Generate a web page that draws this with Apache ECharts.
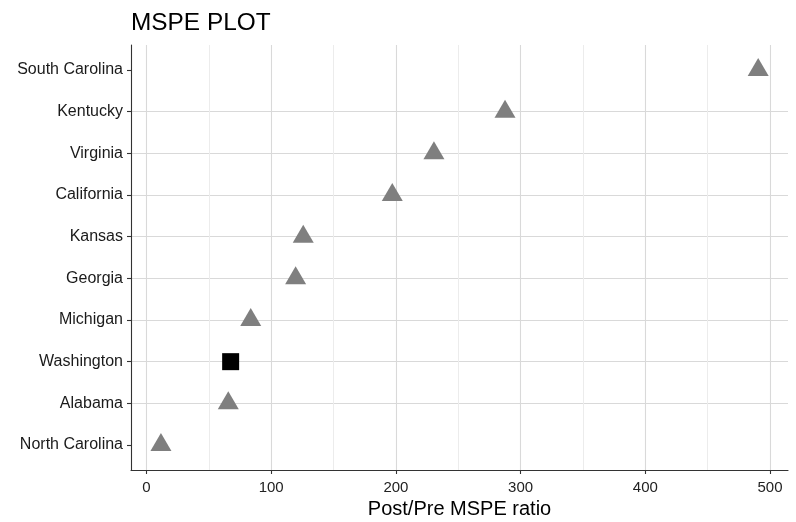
<!DOCTYPE html>
<html>
<head>
<meta charset="utf-8">
<script src="https://cdn.jsdelivr.net/npm/echarts@6/dist/echarts.min.js"></script>
<style>
  html, body { margin: 0; padding: 0; background: #ffffff; }
  #chart { width: 796px; height: 522px; }
</style>
</head>
<body>
<div id="chart"></div>
<script>
// States ordered bottom to top on the y axis
const states = ['North Carolina', 'Alabama', 'Washington', 'Michigan', 'Georgia',
                'Kansas', 'California', 'Virginia', 'Kentucky', 'South Carolina'];
// Post/Pre MSPE ratio for each state (same order)
const ratios = [11.6, 65.6, 67.5, 83.6, 119.6, 125.7, 197.1, 230.5, 287.5, 490.5];
// Treated unit, drawn as a black square
const treatedState = 'Washington';
// Tick values for the ratio axis and the minor grid between them
const xTicks = [0, 100, 200, 300, 400, 500];
const xMinorTicks = [50, 150, 250, 350, 450];

const font = "'Liberation Sans', Arial, sans-serif";
const stateIdx = states.map((s, i) => i);

const donorPoints = [];
const treatedPoints = [];
states.forEach((s, i) => {
  (s === treatedState ? treatedPoints : donorPoints).push([ratios[i], i]);
});

const xMin = -12.4, xMax = 514.4;

const chart = echarts.init(document.getElementById('chart'), null, { renderer: 'canvas' });
chart.setOption({
  animation: false,
  backgroundColor: '#ffffff',
  title: {
    text: 'MSPE PLOT',
    left: 131,
    top: 11,
    padding: 0,
    textStyle: { fontFamily: font, fontSize: 24.4, fontWeight: 'normal', color: '#000000' }
  },
  grid: { left: 131, right: 8, top: 45, bottom: 52, containLabel: false, outerBoundsMode: 'none' },
  xAxis: [
    {
      type: 'value',
      min: xMin,
      max: xMax,
      name: 'Post/Pre MSPE ratio',
      nameLocation: 'middle',
      nameGap: 29,
      nameTextStyle: { fontFamily: font, fontSize: 20, color: '#000000' },
      axisLine: { show: true, onZero: false, lineStyle: { color: '#333333', width: 1.1 } },
      axisTick: { show: true, length: 4, customValues: xTicks, lineStyle: { color: '#333333', width: 1.1 } },
      axisLabel: { customValues: xTicks, margin: 10, fontFamily: font, fontSize: 15, color: '#222222' },
      splitLine: { show: true, lineStyle: { color: '#d9d9d9', width: 1.1 } }
    },
    {
      type: 'value',
      min: xMin,
      max: xMax,
      position: 'bottom',
      axisLine: { show: false },
      axisTick: { show: false, customValues: xMinorTicks },
      axisLabel: { show: false, customValues: xMinorTicks },
      splitLine: { show: true, lineStyle: { color: '#ececec', width: 1 } }
    }
  ],
  yAxis: {
    type: 'value',
    min: -0.6,
    max: 9.6,
    axisLine: { show: true, onZero: false, lineStyle: { color: '#333333', width: 1.1 } },
    axisTick: { show: true, length: 4, customValues: stateIdx, lineStyle: { color: '#333333', width: 1.1 } },
    axisLabel: {
      customValues: stateIdx,
      margin: 8,
      fontFamily: font,
      fontSize: 16,
      color: '#1a1a1a',
      formatter: v => states[Math.round(v)]
    },
    splitLine: { show: true, showMinLine: false, showMaxLine: false, lineStyle: { color: '#d9d9d9', width: 1.1 } }
  },
  series: [
    {
      name: 'Donor states',
      type: 'scatter',
      xAxisIndex: 0,
      symbol: 'triangle',
      symbolSize: [21, 18],
      symbolOffset: [0, -3],
      itemStyle: { color: '#7f7f7f', opacity: 1 },
      data: donorPoints,
      z: 5
    },
    {
      name: treatedState,
      type: 'scatter',
      xAxisIndex: 0,
      symbol: 'rect',
      symbolSize: 17,
      itemStyle: { color: '#000000', opacity: 1 },
      data: treatedPoints,
      z: 6
    }
  ]
});
</script>
</body>
</html>
